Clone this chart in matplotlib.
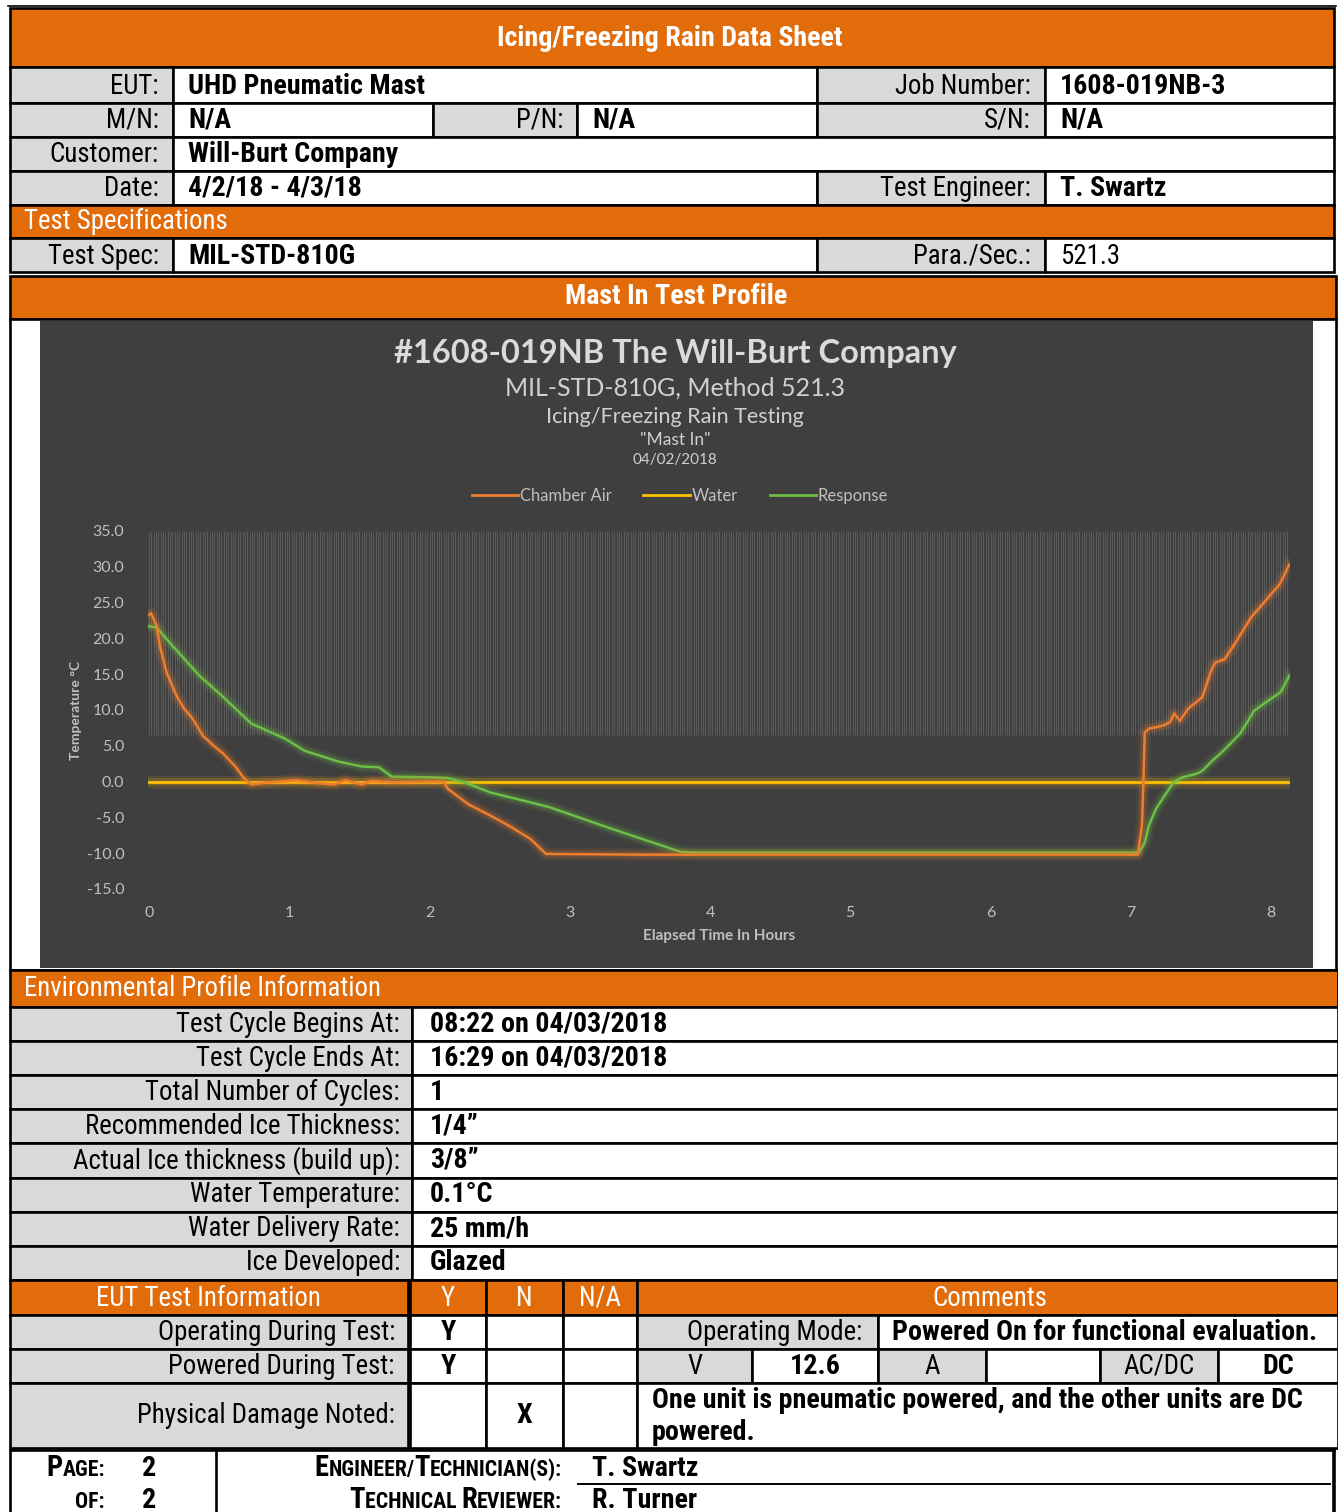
import numpy as np
import matplotlib
matplotlib.use('Agg')
import matplotlib.pyplot as plt
from matplotlib.patches import Rectangle
from matplotlib.lines import Line2D
import matplotlib.patheffects as pe
from matplotlib import font_manager as fm

# ------------------------------------------------------------------ data
chamber_t = [0.00, 0.015, 0.055, 0.078, 0.126, 0.198, 0.25, 0.314, 0.385, 0.45, 0.53, 0.62,
             0.68, 0.73, 0.85, 1.05, 1.20, 1.32, 1.40, 1.52, 1.58, 1.75, 2.00, 2.10, 2.13,
             2.28, 2.43, 2.57, 2.72, 2.83, 3.50, 5.00, 7.05, 7.08, 7.09, 7.10, 7.13, 7.18,
             7.24, 7.28, 7.31, 7.35, 7.41, 7.48, 7.51, 7.57, 7.60, 7.67, 7.75, 7.86,
             7.95, 8.01, 8.06, 8.13]
chamber_T = [23.3, 23.5, 21.7, 18.9, 15.2, 11.9, 10.2, 8.7, 6.4, 5.2, 3.9, 2.0,
             0.4, -0.4, -0.1, 0.2, -0.2, -0.4, 0.2, -0.4, 0.1, -0.1, 0.0, 0.0, -1.0,
             -3.2, -4.7, -6.2, -8.0, -10.1, -10.2, -10.2, -10.2, -6.1, 0.0, 6.9, 7.4, 7.6,
             7.9, 8.3, 9.5, 8.5, 10.2, 11.3, 11.8, 15.3, 16.6, 17.1, 19.5, 23.0,
             25.0, 26.4, 27.5, 30.3]
water_t = [0.0, 8.13]
water_T = [0.0, 0.0]
response_t = [0.00, 0.055, 0.17, 0.364, 0.53, 0.73, 0.97, 1.11, 1.35, 1.52, 1.64,
              1.73, 2.00, 2.13, 2.25, 2.43, 2.72, 2.86, 3.30, 3.59, 3.79, 3.90, 5.00,
              7.06, 7.10, 7.13, 7.18, 7.24, 7.31, 7.37, 7.47, 7.51, 7.57, 7.66, 7.78,
              7.88, 7.98, 8.07, 8.13]
response_T = [21.7, 21.5, 18.9, 14.7, 11.8, 8.1, 6.0, 4.3, 2.8, 2.1, 2.0,
              0.7, 0.6, 0.5, -0.1, -1.5, -2.9, -3.6, -6.6, -8.5, -9.8, -9.9, -9.9,
              -9.9, -8.5, -6.1, -3.8, -2.0, 0.0, 0.6, 1.1, 1.5, 2.7, 4.3, 6.7,
              9.9, 11.3, 12.5, 14.8]
series_names = ['Chamber Air', 'Water', 'Response']
series_colors = ['#EF7D2E', '#FFC000', '#6DBE45']
y_ticks = [-15, -10, -5, 0, 5, 10, 15, 20, 25, 30, 35]
x_ticks = [0, 1, 2, 3, 4, 5, 6, 7, 8]
sample_minutes = np.arange(0, 8.14, 1 / 60)   # category gridlines (one per logged minute)

chart_titles = ['#1608-019NB The Will-Burt Company', 'MIL-STD-810G, Method 521.3',
                'Icing/Freezing Rain Testing', '"Mast In"', '04/02/2018']

env_labels = ['Test Cycle Begins At:', 'Test Cycle Ends At:', 'Total Number of Cycles:',
              'Recommended Ice Thickness:', 'Actual Ice thickness (build up):',
              'Water Temperature:', 'Water Delivery Rate:', 'Ice Developed:']
env_values = ['08:22 on 04/03/2018', '16:29 on 04/03/2018', '1', '1/4\u201d', '3/8\u201d',
              '0.1\u00b0C', '25 mm/h', 'Glazed']

# ------------------------------------------------------------------ fonts
avail = {f.name for f in fm.fontManager.ttflist}
TF, STRETCH = 'DejaVu Sans', 'condensed'
for cand in ['Liberation Sans Narrow', 'Arial Narrow', 'Roboto Condensed',
             'Open Sans Condensed', 'Noto Sans Condensed']:
    if cand in avail:
        TF, STRETCH = cand, 'normal'
        break
CF = 'Lato' if 'Lato' in avail else 'DejaVu Sans'

W, H = 1338, 1512
fig = plt.figure(figsize=(W / 100, H / 100), dpi=100)
ax = fig.add_axes([0, 0, 1, 1])
ax.set_xlim(0, W)
ax.set_ylim(H, 0)
ax.axis('off')
renderer = fig.canvas.get_renderer()


def width_of(s, size, bold):
    t = ax.text(0, 0, s, fontsize=size, fontweight='bold' if bold else 'normal',
                family=TF, fontstretch=STRETCH)
    w = t.get_window_extent(renderer).width
    t.remove()
    return w


# calibrate sizes so the narrow spreadsheet text keeps its width
TS_REG = 10 * 222 / width_of('Test Cycle Begins At:', 10, False)
TS_BOLD = 10 * 236 / width_of('UHD Pneumatic Mast', 10, True)

ORANGE = '#E26B0A'
GRAY = '#D9D9D9'
LW = 1.9


def cell(x0, y0, x1, y1, fc='white', lw=LW):
    ax.add_patch(Rectangle((x0, y0), x1 - x0, y1 - y0, facecolor=fc,
                           edgecolor='black', lw=lw, zorder=1))


def txt(x, y, s, bold=False, color='black', ha='left', size=None):
    if size is None:
        size = TS_BOLD if bold else TS_REG
    ax.text(x, y, s, fontsize=size, fontweight='bold' if bold else 'normal',
            color=color, ha=ha, va='center', family=TF, fontstretch=STRETCH, zorder=3)


# ------------------------------------------------------------------ header block
ax.plot([8, 1336], [6, 6], color='black', lw=1.2, zorder=4)
cell(10, 8, 1334, 67, ORANGE)
txt(670, 38, 'Icing/Freezing Rain Data Sheet', bold=True, color='white', ha='center')

cell(10, 67, 173, 103, GRAY); txt(159, 86, 'EUT:', ha='right')
cell(173, 67, 817, 103); txt(188, 86, 'UHD Pneumatic Mast', bold=True)
cell(817, 67, 1045, 103, GRAY); txt(1031, 86, 'Job Number:', ha='right')
cell(1045, 67, 1334, 103); txt(1060, 86, '1608-019NB-3', bold=True)

cell(10, 103, 173, 137, GRAY); txt(159, 120, 'M/N:', ha='right')
cell(173, 103, 433, 137); txt(188, 120, 'N/A', bold=True)
cell(433, 103, 577, 137, GRAY); txt(563, 120, 'P/N:', ha='right')
cell(577, 103, 817, 137); txt(592, 120, 'N/A', bold=True)
cell(817, 103, 1045, 137, GRAY); txt(1031, 120, 'S/N:', ha='right')
cell(1045, 103, 1334, 137); txt(1060, 120, 'N/A', bold=True)

cell(10, 137, 173, 171, GRAY); txt(159, 154, 'Customer:', ha='right')
cell(173, 137, 1334, 171); txt(188, 154, 'Will-Burt Company', bold=True)

cell(10, 171, 173, 205, GRAY); txt(159, 188, 'Date:', ha='right')
cell(173, 171, 817, 205); txt(188, 188, '4/2/18 - 4/3/18', bold=True)
cell(817, 171, 1045, 205, GRAY); txt(1031, 188, 'Test Engineer:', ha='right')
cell(1045, 171, 1334, 205); txt(1060, 188, 'T. Swartz', bold=True)

cell(10, 205, 1334, 238, ORANGE); txt(24, 221, 'Test Specifications', color='white')
cell(10, 238, 173, 272, GRAY); txt(159, 256, 'Test Spec:', ha='right')
cell(173, 238, 817, 272); txt(188, 256, 'MIL-STD-810G', bold=True)
cell(817, 238, 1045, 272, GRAY); txt(1031, 256, 'Para./Sec.:', ha='right')
cell(1045, 238, 1334, 272); txt(1060, 256, '521.3')

cell(10, 276, 1336, 319, ORANGE)
txt(676, 297, 'Mast In Test Profile', bold=True, color='white', ha='center')

cell(10, 319, 1336, 970, 'white')
ax.add_patch(Rectangle((40, 321), 1273, 647, facecolor='#3F3F3F', edgecolor='none', zorder=2))

# ------------------------------------------------------------------ environmental block
cell(10, 970, 1338, 1007, ORANGE)
txt(24, 989, 'Environmental Profile Information', color='white')
rh = 34.1
for i, (lab, val) in enumerate(zip(env_labels, env_values)):
    y0 = 1007 + i * rh
    cell(10, y0, 412, y0 + rh, GRAY)
    cell(412, y0, 1338, y0 + rh)
    txt(400, y0 + rh / 2, lab, ha='right')
    txt(430, y0 + rh / 2, val, bold=True)

# ------------------------------------------------------------------ EUT test info
cell(10, 1280, 408, 1315, ORANGE); txt(208, 1298, 'EUT Test Information', color='white', ha='center')
cell(410, 1280, 486, 1315, ORANGE); txt(448, 1298, 'Y', color='white', ha='center')
cell(486, 1280, 563, 1315, ORANGE); txt(524, 1298, 'N', color='white', ha='center')
cell(563, 1280, 637, 1315, ORANGE); txt(600, 1298, 'N/A', color='white', ha='center')
cell(637, 1280, 1338, 1315, ORANGE); txt(990, 1298, 'Comments', color='white', ha='center')

eut_rows = [('Operating During Test:', 'Y', '', ''),
            ('Powered During Test:', 'Y', '', ''),
            ('Physical Damage Noted:', '', 'X', '')]
eut_y = [(1315, 1349), (1349, 1383), (1383, 1448)]
for (lab, yv, nv, nav), (y0, y1) in zip(eut_rows, eut_y):
    ym = (y0 + y1) / 2
    cell(10, y0, 408, y1, GRAY); txt(395, ym, lab, ha='right')
    cell(410, y0, 486, y1); txt(448, ym, yv, bold=True, ha='center')
    cell(486, y0, 563, y1); txt(524, ym, nv, bold=True, ha='center')
    cell(563, y0, 637, y1); txt(600, ym, nav, bold=True, ha='center')

cell(637, 1315, 878, 1349, GRAY); txt(862, 1332, 'Operating Mode:', ha='right')
cell(878, 1315, 1338, 1349); txt(892, 1332, 'Powered On for functional evaluation.', bold=True)
pw = [(637, 752, GRAY, 'V', False), (752, 878, 'white', '12.6', True),
      (878, 986, GRAY, 'A', False), (986, 1100, 'white', '', False),
      (1100, 1218, GRAY, 'AC/DC', False), (1218, 1338, 'white', 'DC', True)]
for x0, x1, fc, s, b in pw:
    cell(x0, 1349, x1, 1383, fc)
    txt((x0 + x1) / 2, 1366, s, bold=b, ha='center')
cell(637, 1383, 1338, 1448)
txt(652, 1400, 'One unit is pneumatic powered, and the other units are DC', bold=True)
txt(652, 1432, 'powered.', bold=True)

# ------------------------------------------------------------------ footer
ax.plot([10, 1334], [1450, 1450], color='black', lw=LW, zorder=4)
ax.plot([10, 10], [1450, 1512], color='black', lw=LW, zorder=4)
ax.plot([216, 216], [1450, 1512], color='black', lw=LW, zorder=4)
ax.plot([1334, 1334], [1450, 1512], color='black', lw=2.6, zorder=4)
ax.plot([578, 1330], [1484, 1484], color='black', lw=1.4, zorder=4)


def smallcaps(x, y, runs, ha='right'):
    objs = []
    for s, sz in runs:
        objs.append(ax.text(0, y, s, fontsize=sz, fontweight='bold', family=TF,
                            fontstretch=STRETCH, va='baseline', ha='left', zorder=3))
    widths = [o.get_window_extent(renderer).width for o in objs]
    x0 = x - sum(widths) if ha == 'right' else x
    for o, w in zip(objs, widths):
        o.set_x(x0)
        x0 += w


BIG, SMALL = TS_BOLD * 1.02, TS_BOLD * 0.78
smallcaps(105, 1476, [('P', BIG), ('AGE:', SMALL)])
smallcaps(105, 1508, [('OF:', SMALL)])
txt(142, 1468, '2', bold=True)
txt(142, 1500, '2', bold=True)
smallcaps(562, 1476, [('E', BIG), ('NGINEER/', SMALL), ('T', BIG), ('ECHNICIAN(S):', SMALL)])
smallcaps(562, 1508, [('T', BIG), ('ECHNICAL ', SMALL), ('R', BIG), ('EVIEWER:', SMALL)])
txt(592, 1468, 'T. Swartz', bold=True)
txt(592, 1500, 'R. Turner', bold=True)

# ------------------------------------------------------------------ chart texts
TXTC = '#D0D0D0'
ax.text(675, 354, chart_titles[0], fontsize=23.5, fontweight='bold', color='#DADADA',
        ha='center', va='center', family=CF, zorder=3)
ax.text(675, 388, chart_titles[1], fontsize=18, color=TXTC, ha='center', va='center', family=CF, zorder=3)
ax.text(675, 417, chart_titles[2], fontsize=15.5, color=TXTC, ha='center', va='center', family=CF, zorder=3)
ax.text(675, 440, chart_titles[3], fontsize=12.5, color=TXTC, ha='center', va='center', family=CF, zorder=3)
ax.text(675, 460, chart_titles[4], fontsize=11, color=TXTC, ha='center', va='center', family=CF, zorder=3)

# ------------------------------------------------------------------ chart axes
px_left, px_right, px_top, px_bot = 148, 1290, 531, 889
cax = fig.add_axes([px_left / W, 1 - px_bot / H, (px_right - px_left) / W, (px_bot - px_top) / H])
cax.set_facecolor('none')
pxh = 140.25
cax.set_xlim(-1 / pxh, (px_right - 149) / pxh)
cax.set_ylim(-15, 35)
for s in cax.spines.values():
    s.set_visible(False)

cax.vlines(sample_minutes, 6.5, 35, color='#5A5A5A', lw=0.7, zorder=1)


def glow(color):
    return [pe.Stroke(linewidth=9, foreground=color, alpha=0.10),
            pe.Stroke(linewidth=5.5, foreground=color, alpha=0.18),
            pe.Normal()]


cax.plot(water_t, water_T, color=series_colors[1], lw=2.0, zorder=3, path_effects=glow(series_colors[1]))
cax.plot(response_t, response_T, color=series_colors[2], lw=1.8, zorder=4, path_effects=glow(series_colors[2]))
cax.plot(chamber_t, chamber_T, color=series_colors[0], lw=1.8, zorder=5, path_effects=glow(series_colors[0]))

cax.set_yticks(y_ticks)
cax.set_yticklabels([f'{v:.1f}' for v in y_ticks])
cax.set_xticks(x_ticks)
cax.set_xticklabels([str(v) for v in x_ticks])
cax.tick_params(length=0, colors='#BFBFBF', labelsize=11.5)
cax.tick_params(axis='y', pad=17)
cax.tick_params(axis='x', pad=12)
for lbl in cax.get_xticklabels() + cax.get_yticklabels():
    lbl.set_family(CF)

cax.set_xlabel('Elapsed Time In Hours', fontsize=11, fontweight='bold', color='#BFBFBF', family=CF)
cax.xaxis.set_label_coords(0.5, (px_bot - 929) / (px_bot - px_top))
cax.set_ylabel('Temperature \u00b0C', fontsize=10, fontweight='bold', color='#BFBFBF', family=CF)
cax.yaxis.set_label_coords((82 - px_left) / (px_right - px_left), 0.5)

handles = [Line2D([], [], color=c, lw=2) for c in series_colors]
leg = cax.legend(handles, series_names, loc='center', ncol=3, frameon=False,
                 bbox_to_anchor=((680 - px_left) / (px_right - px_left), (px_bot - 496) / (px_bot - px_top)),
                 prop={'family': CF, 'size': 12}, handlelength=2.8, handletextpad=0.1,
                 columnspacing=1.9, labelcolor='#BFBFBF')

fig.savefig('out.png', dpi=100)
